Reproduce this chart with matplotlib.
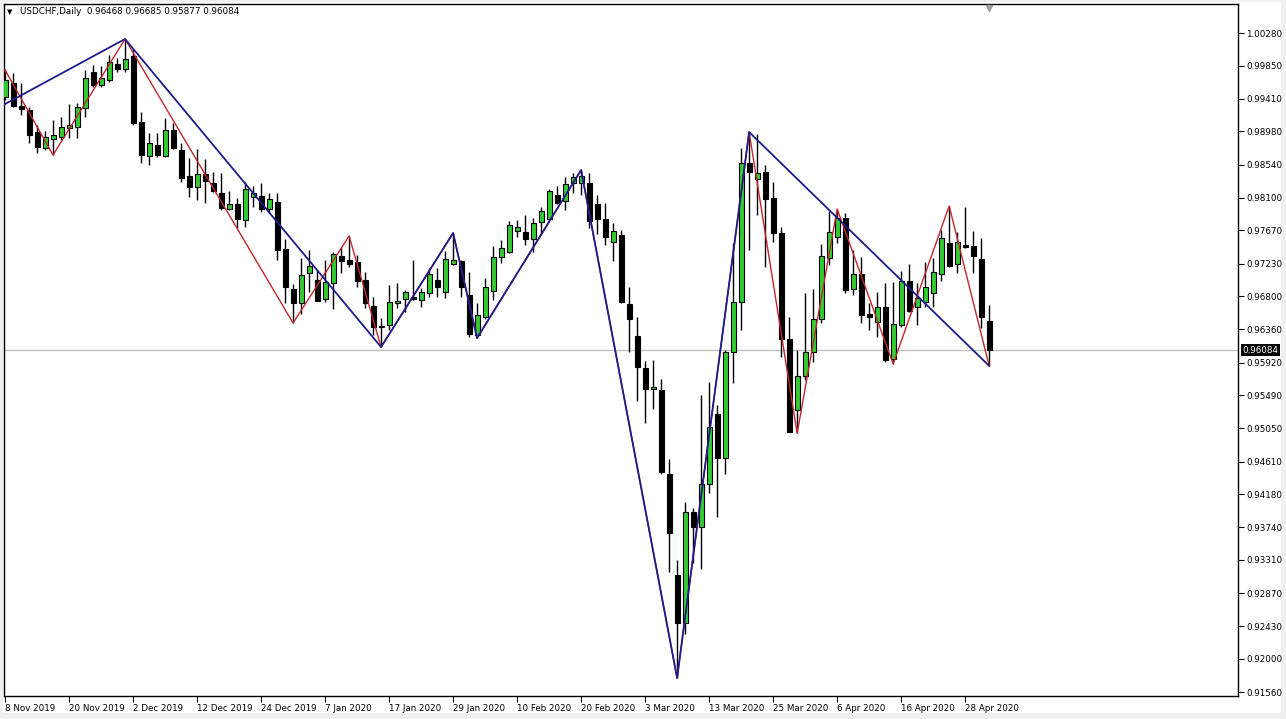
import numpy as np
import matplotlib.pyplot as plt
from matplotlib.patches import Rectangle
from matplotlib.transforms import blended_transform_factory

# USDCHF daily candles, 8 Nov 2019 .. 1 May 2020
opens = [
    0.99433, 0.99619, 0.99314, 0.99261, 0.98970, 0.98759, 0.98878, 0.98904, 0.99023, 0.99037,
    0.99288, 0.99764, 0.99592, 0.99658, 0.99870, 0.99804, 0.99976, 0.99103, 0.98653, 0.98798,
    0.98653, 0.98997, 0.98732, 0.98388, 0.98243, 0.98415, 0.98296, 0.98164, 0.97952, 0.98018,
    0.97806, 0.98111, 0.98124, 0.97952, 0.98044, 0.97423, 0.96894, 0.96708, 0.97105, 0.97013,
    0.96761, 0.96973, 0.97330, 0.97277, 0.97251, 0.97013, 0.96669, 0.96404, 0.96417, 0.96708,
    0.96761, 0.96788, 0.96748, 0.96841, 0.97013, 0.96854, 0.97224, 0.97264, 0.96814, 0.96285,
    0.96523, 0.96867, 0.97317, 0.97383, 0.97661, 0.97648, 0.97555, 0.97780, 0.97820, 0.98137,
    0.98058, 0.98296, 0.98296, 0.98296, 0.98018, 0.97820, 0.97515, 0.97608, 0.96695, 0.96272,
    0.95849, 0.95571, 0.95558, 0.94446, 0.93110, 0.92476, 0.93944, 0.93745, 0.94314, 0.95240,
    0.94658, 0.96060, 0.96722, 0.98560, 0.98349, 0.98441, 0.98097, 0.97634, 0.96232, 0.95293,
    0.95743, 0.96060, 0.96497, 0.97304, 0.97581, 0.97833, 0.96894, 0.97092, 0.96563, 0.96457,
    0.96656, 0.95968, 0.96417, 0.96999, 0.96656, 0.96722, 0.96841, 0.97092, 0.97502, 0.97224,
    0.97476, 0.97462, 0.97290, 0.96468]
highs = [
    0.99791, 0.99751, 0.99619, 0.99301, 0.99063, 0.98984, 0.99129, 0.99169, 0.99341, 0.99354,
    0.99791, 0.99857, 0.99843, 0.99989, 0.99949, 1.00201, 1.00068, 0.99235, 0.98957, 0.98957,
    0.99156, 0.99089, 0.98825, 0.98627, 0.98746, 0.98613, 0.98441, 0.98428, 0.98190, 0.98097,
    0.98309, 0.98256, 0.98296, 0.98164, 0.98164, 0.97555, 0.96960, 0.97304, 0.97410, 0.97145,
    0.97277, 0.97383, 0.97449, 0.97595, 0.97343, 0.97119, 0.96788, 0.96510, 0.96947, 0.96973,
    0.96880, 0.97277, 0.96907, 0.97171, 0.97171, 0.97396, 0.97634, 0.97277, 0.97119, 0.96708,
    0.97039, 0.97462, 0.97542, 0.97793, 0.97806, 0.97873, 0.97833, 0.97978, 0.98216, 0.98256,
    0.98375, 0.98428, 0.98468, 0.98428, 0.98137, 0.98031, 0.97767, 0.97674, 0.96920, 0.96523,
    0.95941, 0.95954, 0.95703, 0.94645, 0.93309, 0.94076, 0.93997, 0.95491, 0.95663, 0.95359,
    0.96087, 0.97502, 0.98759, 0.98970, 0.98950, 0.98534, 0.98309, 0.97714, 0.96523, 0.96087,
    0.96841, 0.96894, 0.97489, 0.97925, 0.97952, 0.97899, 0.97410, 0.97317, 0.96708, 0.96854,
    0.96973, 0.96986, 0.97132, 0.97224, 0.96973, 0.97251, 0.97304, 0.97674, 0.97992, 0.97648,
    0.97978, 0.97661, 0.97568, 0.96685]
lows = [
    0.99394, 0.99301, 0.99195, 0.98825, 0.98693, 0.98732, 0.98666, 0.98865, 0.98891, 0.98891,
    0.99169, 0.99566, 0.99566, 0.99632, 0.99764, 0.99764, 0.99063, 0.98560, 0.98534, 0.98640,
    0.98640, 0.98746, 0.98309, 0.98111, 0.98071, 0.98031, 0.98177, 0.97939, 0.97939, 0.97701,
    0.97714, 0.97978, 0.97912, 0.97899, 0.97277, 0.96708, 0.96444, 0.96563, 0.96854, 0.96730,
    0.96722, 0.96629, 0.97105, 0.97185, 0.96920, 0.96642, 0.96285, 0.96126, 0.96351, 0.96642,
    0.96589, 0.96748, 0.96656, 0.96788, 0.96788, 0.96775, 0.97211, 0.96788, 0.96259, 0.96245,
    0.96497, 0.96748, 0.97238, 0.97370, 0.97581, 0.97476, 0.97383, 0.97608, 0.97793, 0.98020,
    0.97939, 0.98164, 0.98137, 0.97701, 0.97621, 0.97476, 0.97264, 0.96708, 0.96060, 0.95412,
    0.95121, 0.95306, 0.94446, 0.93150, 0.91748, 0.92330, 0.93269, 0.93190, 0.94195, 0.93878,
    0.94446, 0.95650, 0.96351, 0.97410, 0.97873, 0.97185, 0.97515, 0.95994, 0.95000, 0.94985,
    0.95690, 0.95928, 0.96444, 0.97211, 0.97502, 0.96841, 0.96814, 0.96444, 0.96351, 0.96259,
    0.95928, 0.95902, 0.96391, 0.96589, 0.96417, 0.96656, 0.96656, 0.96999, 0.97190, 0.97105,
    0.97440, 0.97105, 0.96378, 0.95877]
closes = [
    0.99658, 0.99314, 0.99275, 0.98931, 0.98772, 0.98904, 0.98931, 0.99037, 0.99063, 0.99301,
    0.99685, 0.99592, 0.99685, 0.99896, 0.99804, 0.99936, 0.99089, 0.98666, 0.98825, 0.98666,
    0.98997, 0.98759, 0.98362, 0.98243, 0.98415, 0.98322, 0.98190, 0.97965, 0.98018, 0.97820,
    0.98216, 0.98164, 0.97952, 0.98084, 0.97410, 0.96920, 0.96708, 0.97079, 0.97198, 0.96735,
    0.96986, 0.97357, 0.97264, 0.97224, 0.96999, 0.96708, 0.96391, 0.96391, 0.96722, 0.96735,
    0.96854, 0.96761, 0.96854, 0.97092, 0.96920, 0.97290, 0.97277, 0.96920, 0.96298, 0.96550,
    0.96920, 0.97317, 0.97436, 0.97740, 0.97714, 0.97555, 0.97767, 0.97925, 0.98190, 0.98031,
    0.98283, 0.98375, 0.98388, 0.97793, 0.97820, 0.97581, 0.97661, 0.96722, 0.96497, 0.95862,
    0.95571, 0.95597, 0.94473, 0.93666, 0.92476, 0.93944, 0.93745, 0.94314, 0.95068, 0.94658,
    0.96060, 0.96722, 0.98560, 0.98441, 0.98428, 0.98084, 0.97634, 0.96232, 0.95002, 0.95743,
    0.96060, 0.96497, 0.97330, 0.97648, 0.97833, 0.96880, 0.97092, 0.96550, 0.96523, 0.96656,
    0.95954, 0.96431, 0.96999, 0.96603, 0.96775, 0.96920, 0.97119, 0.97568, 0.97198, 0.97515,
    0.97449, 0.97330, 0.96523, 0.96084]

date_idx = list(range(0, 121, 8))
date_labels = ['8 Nov 2019', '20 Nov 2019', '2 Dec 2019', '12 Dec 2019', '24 Dec 2019',
               '7 Jan 2020', '17 Jan 2020', '29 Jan 2020', '10 Feb 2020', '20 Feb 2020',
               '3 Mar 2020', '13 Mar 2020', '25 Mar 2020', '6 Apr 2020', '16 Apr 2020',
               '28 Apr 2020']

price_ticks = [1.00280, 0.99850, 0.99410, 0.98980, 0.98540, 0.98100, 0.97670, 0.97230,
               0.96800, 0.96360, 0.95920, 0.95490, 0.95050, 0.94610, 0.94180, 0.93740,
               0.93310, 0.92870, 0.92430, 0.92000, 0.91560]

# zigzag pivots: bar index + 'H'/'L'
red_piv = [(0, 'H'), (6, 'L'), (15, 'H'), (36, 'L'), (43, 'H'), (47, 'L'), (56, 'H'),
           (59, 'L'), (72, 'H'), (84, 'L'), (93, 'H'), (99, 'L'), (104, 'H'), (111, 'L'),
           (118, 'H'), (123, 'L')]
blue_piv = [(15, 'H'), (47, 'L'), (56, 'H'), (59, 'L'), (72, 'H'), (84, 'L'), (93, 'H'),
            (123, 'L')]
blue_start = (-3, 0.99169)  # pivot left of the visible window

W, H = 1286, 719
fig = plt.figure(figsize=(W / 100, H / 100), dpi=100, facecolor='#f0f0f0')
fig.patches.append(Rectangle((3 / W, 6 / H), 1278 / W, 711 / H, transform=fig.transFigure,
                             facecolor='white', edgecolor='none', zorder=-10))
ax = fig.add_axes([3.5 / W, (H - 696) / H, (1238 - 3.5) / W, (696 - 4) / H])

x = np.arange(len(opens))
o, h, l, c = map(np.array, (opens, highs, lows, closes))
bull = c >= o
ax.vlines(x, l, h, color='black', linewidth=1, zorder=2)
body_lo = np.minimum(o, c)
body_h = np.maximum(np.abs(c - o), 0.00006)
ax.bar(x, body_h, bottom=body_lo, width=0.62,
       color=np.where(bull, '#33cc33', 'black'), edgecolor='black', linewidth=0.8, zorder=3)


def piv_xy(piv):
    xs = [p[0] for p in piv]
    ys = [highs[i] if k == 'H' else lows[i] for i, k in piv]
    return xs, ys


rx, ry = piv_xy(red_piv)
ax.plot(rx, ry, color='#c0282d', linewidth=1, zorder=5)
bx, by = piv_xy(blue_piv)
ax.plot([blue_start[0]] + bx, [blue_start[1]] + by, color='#1c1c8c', linewidth=1.3, zorder=6)

last = closes[-1]
ax.axhline(last, color='#c0c0c0', linewidth=1, zorder=1)

ax.set_xlim(-0.19, 154.1)
ax.set_ylim(0.91510, 1.00664)

for s in ax.spines.values():
    s.set_color('black')
    s.set_linewidth(1)

ax.yaxis.tick_right()
ax.set_yticks(price_ticks)
ax.set_yticklabels([f'{v:.5f}' for v in price_ticks])
ax.tick_params(axis='y', direction='out', length=4, width=0.8, labelsize=6.3, pad=2)
ax.set_xticks(date_idx)
ax.set_xticklabels(date_labels)
ax.tick_params(axis='x', direction='out', length=4, width=0.8, labelsize=6.3, pad=1.5)
for t in ax.get_xticklabels():
    t.set_ha('left')

trans = blended_transform_factory(ax.transAxes, ax.transData)
ax.text(1 + 4.5 / 1234.5, last, f'{last:.5f}', transform=trans, ha='left', va='center',
        color='white', fontsize=6.3,
        bbox=dict(boxstyle='square,pad=0.2', facecolor='black', edgecolor='none'))

trans2 = blended_transform_factory(ax.transData, ax.transAxes)
ax.plot([123], [1 - 4 / 692], marker='v', color='#a0a0a0', markersize=5,
        transform=trans2, clip_on=False, zorder=7)

fig.text(7 / W, 1 - 12 / H, '\u25bc', fontsize=5, va='center', ha='left')
fig.text(20 / W, 1 - 12 / H,
         f'USDCHF,Daily  {opens[-1]:.5f} {highs[-1]:.5f} {lows[-1]:.5f} {closes[-1]:.5f}',
         fontsize=6.3, va='center', ha='left')

fig.savefig('out.png', dpi=100, facecolor=fig.get_facecolor())
